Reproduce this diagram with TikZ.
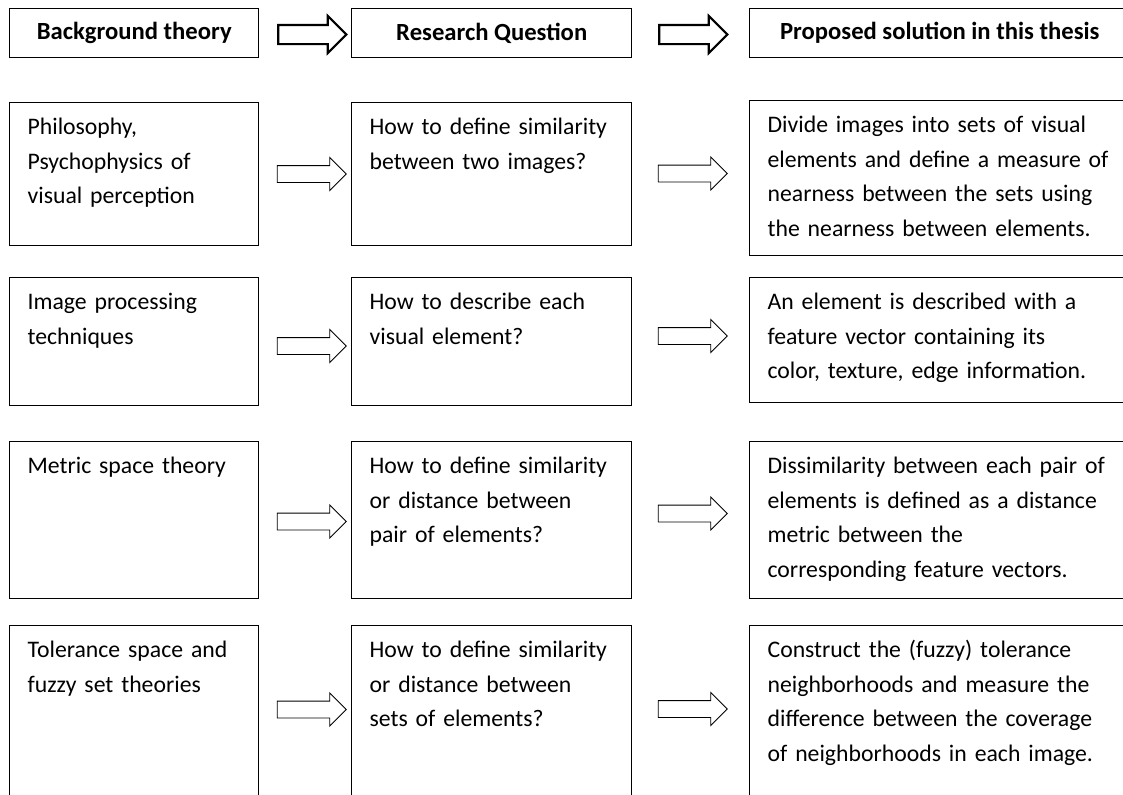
\documentclass[tikz,border=0pt]{standalone}
\usepackage{fontspec}
\setmainfont{Carlito}
\usepackage{tikz}
\usetikzlibrary{shapes.arrows}
\newlength\px
\setlength\px{0.75pt}

\begin{document}
\begin{tikzpicture}[
    x=0.75pt, y=-0.75pt,
    head/.style={draw, line width=1.1pt, anchor=north west, align=center, minimum height=49\px, font=\fontsize{18.5}{22}\selectfont\bfseries},
    box/.style={draw, line width=0.9pt, anchor=north west, align=left, inner xsep=18\px, inner ysep=0pt, text height=32\px, font=\fontsize{17.8}{26}\selectfont},
    blockarrow/.style={draw, single arrow, line width=0.7pt, inner sep=8\px, minimum height=69\px, single arrow head extend=8\px},
    headarrow/.style={draw, single arrow, line width=1.6pt, inner sep=8.5\px, minimum height=68\px, single arrow head extend=9\px}
]
\useasboundingbox (0,0) rectangle (1123,794);
\clip (0,0) rectangle (1123,794);
\node[head, minimum width=249\px] (hbg) at (9,8) {Background theory};
\node[head, minimum width=280\px] (hrq) at (351,8) {Research Question};
\node[head, minimum width=380\px] (hsol) at (749,8) {Proposed solution in this thesis};
\node[box, text width=213\px, text depth=111\px] (bg1) at (9,102) {Philosophy,\\Psychophysics of\\visual perception};
\node[box, text width=244\px, text depth=111\px] (rq1) at (351,102) {How to define similarity\\between two images?};
\node[box, text width=354\px, text depth=123\px] (sol1) at (749,100) {Divide images into sets of visual\\elements and define a measure of\\nearness between the sets using\\the nearness between elements.};
\node[box, text width=213\px, text depth=96\px] (bg2) at (9,277) {Image processing\\techniques};
\node[box, text width=244\px, text depth=96\px] (rq2) at (351,277) {How to describe each\\visual element?};
\node[box, text width=354\px, text depth=93\px] (sol2) at (749,277) {An element is described with a\\feature vector containing its\\color, texture, edge information.};
\node[box, text width=213\px, text depth=125\px] (bg3) at (9,441) {Metric space theory};
\node[box, text width=244\px, text depth=125\px] (rq3) at (351,441) {How to define similarity\\or distance between\\pair of elements?};
\node[box, text width=354\px, text depth=125\px] (sol3) at (749,441) {Dissimilarity between each pair of\\elements is defined as a distance\\metric between the\\corresponding feature vectors.};
\node[box, text width=213\px, text depth=180\px] (bg4) at (9,625) {Tolerance space and\\fuzzy set theories};
\node[box, text width=244\px, text depth=180\px] (rq4) at (351,625) {How to define similarity\\or distance between\\sets of elements?};
\node[box, text width=354\px, text depth=180\px] (sol4) at (749,625) {Construct the (fuzzy) tolerance\\neighborhoods and measure the\\difference between the coverage\\of neighborhoods in each image.};
\node[headarrow] (h1) at (307.5,34.5) {};
\node[headarrow] (h2) at (688.5,34.5) {};
\node[blockarrow] (a1) at (307.5,174) {};
\node[blockarrow] (b1) at (688.5,173.5) {};
\node[blockarrow] (a2) at (307.5,346) {};
\node[blockarrow] (b2) at (688.5,336) {};
\node[blockarrow] (a3) at (307.5,521.5) {};
\node[blockarrow] (b3) at (688.5,513.5) {};
\node[blockarrow] (a4) at (307.5,709.5) {};
\node[blockarrow] (b4) at (688.5,709) {};
\end{tikzpicture}
\end{document}
